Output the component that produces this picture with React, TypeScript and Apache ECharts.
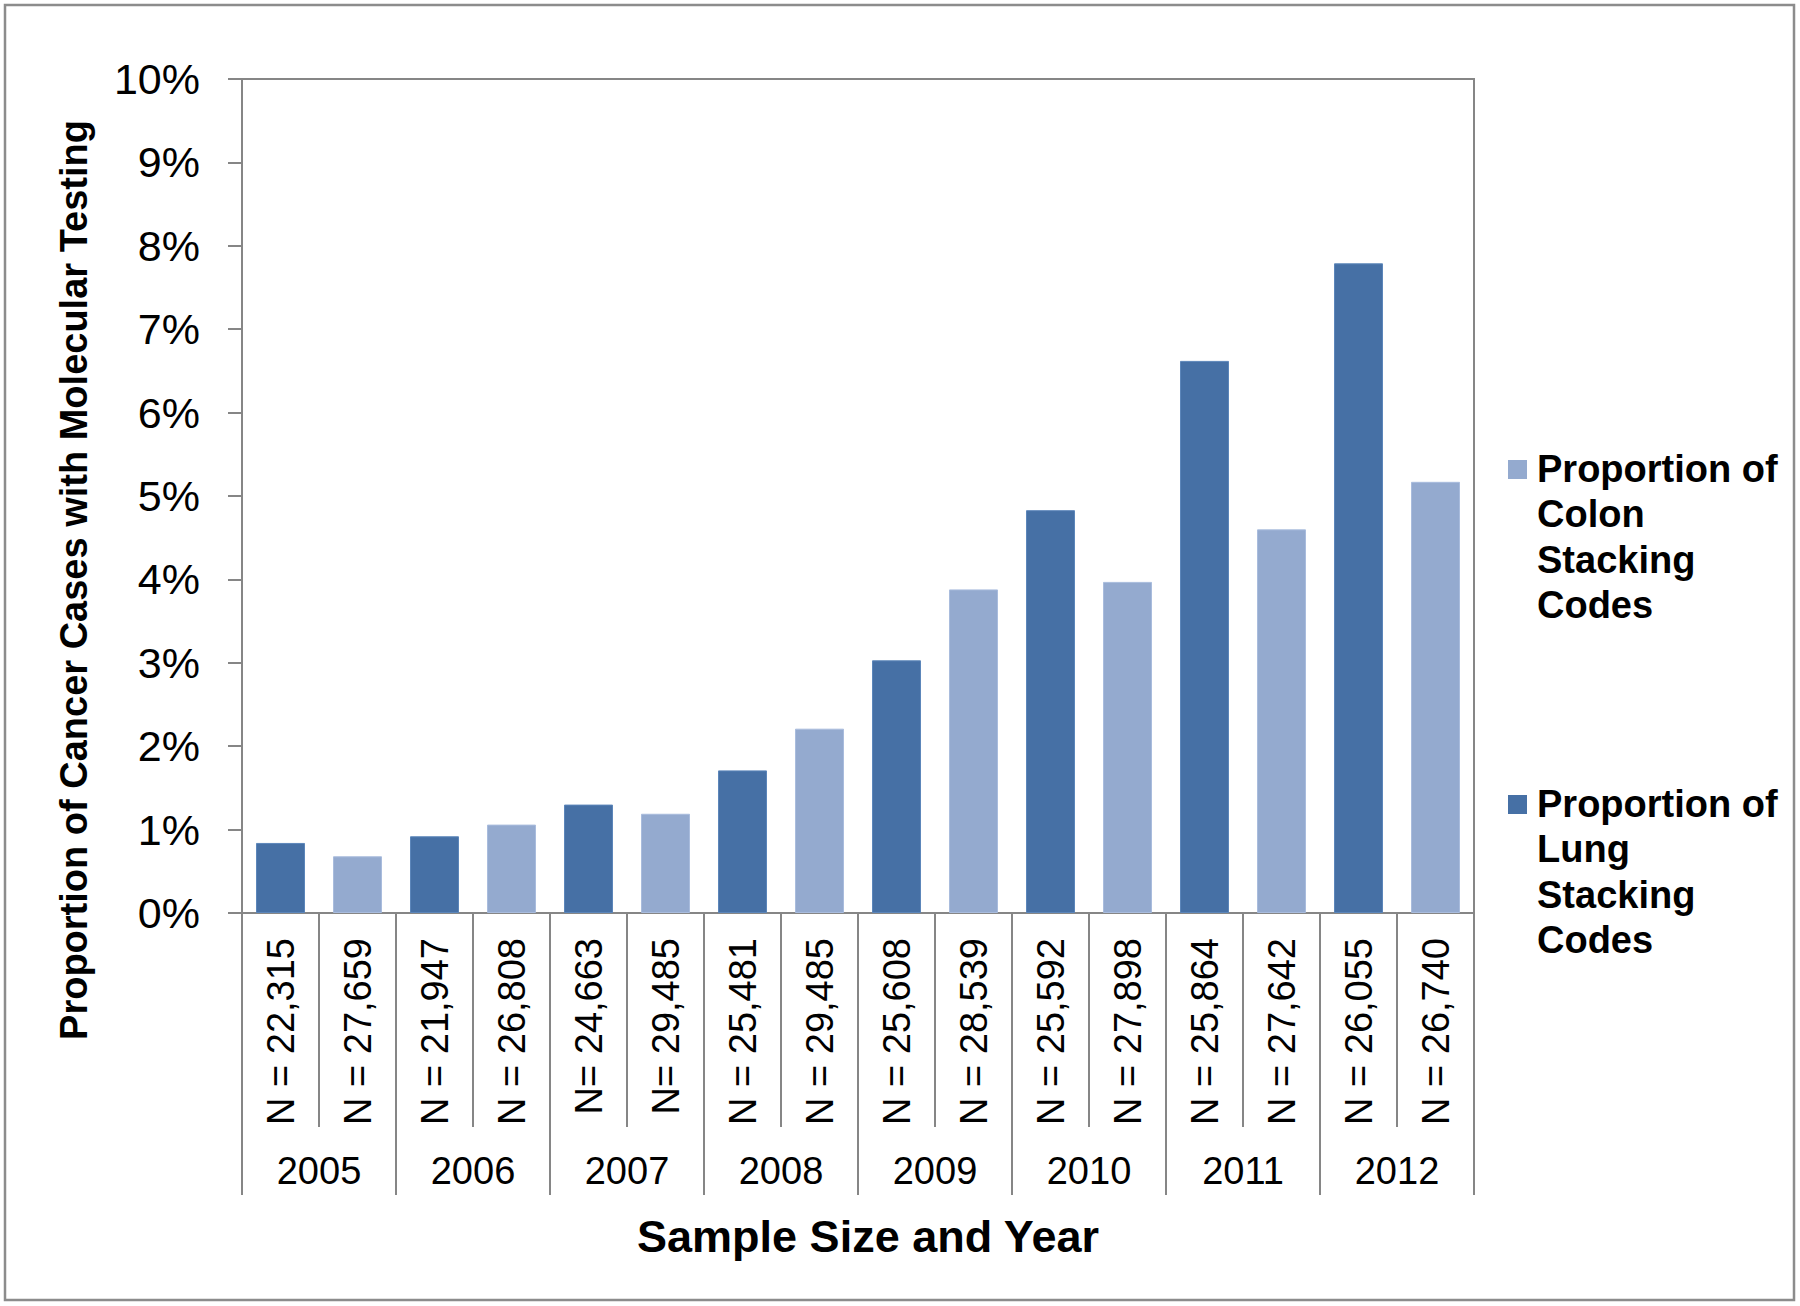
import React, { useEffect, useRef } from "react";
import * as echarts from "echarts";

const years = ["2005", "2006", "2007", "2008", "2009", "2010", "2011", "2012"];
const sampleSizes = [
  "N = 22,315", "N = 27,659",
  "N = 21,947", "N = 26,808",
  "N= 24,663", "N= 29,485",
  "N = 25,481", "N = 29,485",
  "N = 25,608", "N = 28,539",
  "N = 25,592", "N = 27,898",
  "N = 25,864", "N = 27,642",
  "N = 26,055", "N = 26,740",
];
const lungPct = [0.84, 0.92, 1.3, 1.71, 3.03, 4.83, 6.62, 7.79];
const colonPct = [0.68, 1.06, 1.19, 2.21, 3.88, 3.97, 4.6, 5.17];
const colonName = "Proportion of Colon Stacking Codes";
const lungName = "Proportion of Lung Stacking Codes";
const colonLegend = "Proportion of\nColon\nStacking\nCodes";
const lungLegend = "Proportion of\nLung\nStacking\nCodes";
const yTitle = "Proportion of Cancer Cases with Molecular Testing";
const xTitle = "Sample Size and Year";

const LUNG = "#4670A5";
const COLON = "#94AACF";
const AXIS = "#868686";
const FONT = "'Liberation Sans', Arial, sans-serif";

export default function App() {
  const ref = useRef<HTMLDivElement>(null);
  useEffect(() => {
    document.body.style.margin = "0";
    const chart = echarts.init(ref.current!, null, { renderer: "svg" });
    const lungData = sampleSizes.map((_, i) => (i % 2 === 0 ? lungPct[i / 2] : null));
    const colonData = sampleSizes.map((_, i) => (i % 2 === 1 ? colonPct[(i - 1) / 2] : null));
    const lineStyle = { color: AXIS, width: 2 };
    chart.setOption({
      animation: false,
      backgroundColor: "#ffffff",
      grid: {
        left: 242,
        top: 79,
        width: 1232,
        height: 834,
        show: true,
        borderColor: AXIS,
        borderWidth: 2,
        containLabel: false,
      },
      xAxis: [
        {
          type: "category",
          data: sampleSizes,
          position: "bottom",
          boundaryGap: true,
          axisLine: { show: true, lineStyle },
          axisTick: { show: true, interval: 0, length: 214, lineStyle },
          axisLabel: {
            interval: 0,
            rotate: 90,
            margin: 25,
            fontSize: 38,
            color: "#000",
            fontFamily: FONT,
          },
        },
        {
          type: "category",
          data: years,
          position: "bottom",
          offset: 214,
          boundaryGap: true,
          axisLine: { show: false },
          axisTick: { show: true, interval: 0, length: 68, lineStyle },
          axisLabel: {
            interval: 0,
            margin: 25,
            fontSize: 38,
            color: "#000",
            fontFamily: FONT,
          },
        },
      ],
      yAxis: {
        type: "value",
        min: 0,
        max: 10,
        interval: 1,
        axisLine: { show: true, lineStyle },
        axisTick: { show: true, length: 14, lineStyle },
        splitLine: { show: false },
        axisLabel: {
          formatter: "{value}%",
          fontSize: 43,
          margin: 42,
          color: "#000",
          fontFamily: FONT,
        },
      },
      series: [
        {
          name: colonName,
          type: "bar",
          data: colonData,
          barWidth: 49,
          barGap: "-100%",
          itemStyle: { color: COLON, borderColor: "#A9BCDD", borderWidth: 1 },
        },
        {
          name: lungName,
          type: "bar",
          data: lungData,
          barWidth: 49,
          barGap: "-100%",
          itemStyle: { color: LUNG, borderColor: "#5C86BA", borderWidth: 1 },
        },
      ],
      graphic: [
        {
          type: "rect",
          shape: { x: 5, y: 5, width: 1789, height: 1295 },
          style: { fill: "none", stroke: "#8c8c8c", lineWidth: 2.5 },
          silent: true,
        },
        {
          type: "text",
          x: 74,
          y: 580,
          rotation: Math.PI / 2,
          style: {
            text: yTitle,
            font: `bold 38px ${FONT}`,
            fill: "#000",
            textAlign: "center",
            textVerticalAlign: "middle",
          },
        },
        {
          type: "text",
          x: 868,
          y: 1236,
          style: {
            text: xTitle,
            font: `bold 45px ${FONT}`,
            fill: "#000",
            textAlign: "center",
            textVerticalAlign: "middle",
          },
        },
        {
          type: "rect",
          shape: { x: 1508, y: 460, width: 19, height: 19 },
          style: { fill: COLON },
        },
        {
          type: "text",
          x: 1537,
          y: 446,
          style: {
            text: colonLegend,
            font: `bold 38px ${FONT}`,
            lineHeight: 45.5,
            fill: "#000",
            textAlign: "left",
            textVerticalAlign: "top",
          },
        },
        {
          type: "rect",
          shape: { x: 1508, y: 795, width: 19, height: 19 },
          style: { fill: LUNG },
        },
        {
          type: "text",
          x: 1537,
          y: 781,
          style: {
            text: lungLegend,
            font: `bold 38px ${FONT}`,
            lineHeight: 45.5,
            fill: "#000",
            textAlign: "left",
            textVerticalAlign: "top",
          },
        },
      ],
    });
    return () => chart.dispose();
  }, []);
  return (
    <div
      ref={ref}
      style={{ position: "absolute", left: 0, top: 0, width: 1800, height: 1306 }}
    />
  );
}
